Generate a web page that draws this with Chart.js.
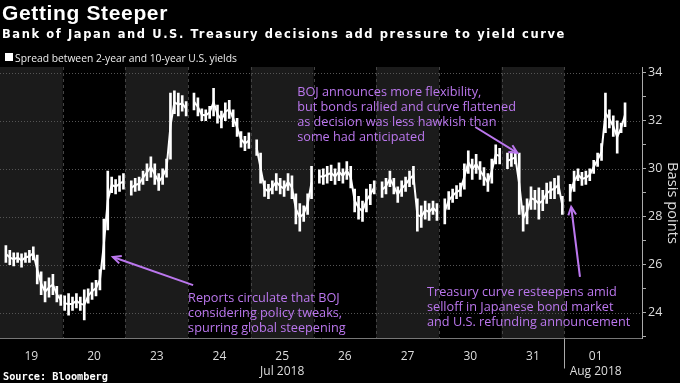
<!DOCTYPE html>
<html lang="en">
<head>
<meta charset="UTF-8">
<title>Getting Steeper</title>
<script src="https://cdn.jsdelivr.net/npm/chart.js@4.4.1/dist/chart.umd.min.js"></script>
<style>
  html, body { margin: 0; padding: 0; background: #000; }
  body { width: 680px; height: 383px; position: relative; overflow: hidden; }
  canvas { position: absolute; left: 0; top: 0; }
  .txt { position: absolute; white-space: nowrap; color: #fff; }
  #legendBox { position: absolute; left: 5px; top: 53px; width: 8px; height: 8px; background: #fff; }
</style>
</head>
<body>
<canvas id="spreadChart" width="680" height="383"></canvas>
<div class="txt" id="title">Getting Steeper</div>
<div class="txt" id="subtitle">Bank of Japan and U.S. Treasury decisions add pressure to yield curve</div>
<div id="legendBox"></div>
<div class="txt" id="legend">Spread between 2-year and 10-year U.S. yields</div>
<div class="txt" id="source">Source: Bloomberg</div>
<script>
// trading days shown on the x axis
const dayLabels = ['19', '20', '23', '24', '25', '26', '27', '30', '31', '01'];
const monthDays = ['25', '01'];
const monthNames = ['Jul 2018', 'Aug 2018'];
const yTickValues = [23, 24, 25, 26, 27, 28, 29, 30, 31, 32, 33, 34];
const slotsPerDay = 16;

// spread (bp), high / low of each intraday slot
const high19 = [null, 26.8, 26.6, 26.5, 26.5, 26.45, 26.5, 26.6, 26.75, 26.4, 25.7, 25.3, 25.45, 25.6, 25.1, 24.75];
const low19  = [null, 26.1, 26.0, 25.95, 26.1, 25.9, 26.1, 26.1, 26.2, 25.2, 24.75, 24.45, 24.65, 24.75, 24.45, 24.3];
const high20 = [24.7, 24.8, 24.65, 24.8, 24.65, 24.95, 25.0, 25.25, 25.35, 25.8, 27.9, 29.9, 29.65, 29.55, 29.7, 29.8];
const low20  = [24.1, 23.9, 24.1, 24.2, 24.1, 23.7, 24.4, 24.55, 24.7, 24.95, 25.8, 27.45, 29.0, 28.95, 29.05, 29.15];
const high23 = [null, 29.5, 29.6, 29.65, 29.9, 30.2, 30.5, 30.2, 29.8, 30.0, 30.4, 33.15, 33.25, 33.15, 33.05, 32.8];
const low23  = [null, 28.9, 29.05, 29.1, 29.35, 29.5, 29.65, 29.35, 29.1, 29.35, 29.65, 30.4, 32.3, 32.2, 32.4, 32.2];
const high24 = [null, 33.15, 32.95, 32.5, 32.45, 32.6, 33.35, 32.65, 32.4, 32.75, 32.85, 32.45, 32.1, 31.55, 31.35, 31.5];
const low24  = [null, 32.45, 32.2, 32.0, 32.0, 32.1, 32.2, 31.9, 31.7, 32.0, 32.1, 31.75, 31.35, 30.9, 30.75, 30.85];
const high25 = [null, 31.2, 30.65, 29.5, 29.35, 29.5, 29.8, 29.6, 29.5, 29.8, 29.7, 28.95, 28.55, 28.45, 28.95, 30.1];
const low25  = [null, 30.55, 29.4, 28.85, 28.75, 28.95, 29.1, 28.95, 28.85, 29.1, 28.75, 27.7, 27.4, 27.8, 28.1, 28.75];
const high26 = [null, 29.95, 30.0, 30.1, 30.15, 30.0, 30.25, 30.0, 30.3, 30.1, 29.15, 28.85, 28.65, 29.15, 29.35, 29.5];
const low26  = [null, 29.4, 29.35, 29.4, 29.5, 29.35, 29.5, 29.4, 29.55, 29.2, 28.2, 27.9, 27.8, 28.2, 28.5, 28.95];
const high27 = [null, 29.45, 29.6, 29.9, 29.6, 29.25, 29.5, 29.65, 29.9, 30.1, 28.75, 28.45, 28.65, 28.55, 28.65, 28.55];
const low27  = [null, 28.8, 28.95, 29.25, 28.95, 28.6, 28.85, 29.05, 29.25, 29.35, 27.4, 27.55, 27.9, 27.85, 28.1, 27.85];
const high30 = [null, 28.75, 29.05, 29.15, 29.3, 29.4, 30.2, 30.75, 30.4, 30.6, 30.3, 30.05, 29.8, 30.4, 31.0, 30.85];
const low30  = [null, 27.7, 28.3, 28.6, 28.75, 28.85, 29.15, 29.8, 29.55, 29.8, 29.55, 29.3, 29.05, 29.4, 30.2, 30.2];
const high31 = [null, 30.65, 30.7, 30.75, 30.65, 28.45, 28.75, 29.25, 29.1, 29.2, 29.1, 29.4, 29.45, 29.6, 29.7, 28.85];
const low31  = [null, 30.0, 30.1, 30.2, 28.1, 27.4, 27.7, 28.3, 28.3, 27.9, 28.25, 28.55, 28.75, 28.75, 28.95, 28.1];
const high01 = [null, 29.35, 29.9, 30.0, 29.85, 29.9, 30.0, 30.35, 30.65, 31.05, 33.15, 32.45, 32.2, 32.0, 31.9, 32.75];
const low01  = [null, 28.65, 29.05, 29.5, 29.3, 29.35, 29.5, 29.8, 30.1, 30.35, 31.5, 31.7, 31.35, 30.65, 31.5, 31.75];

// annotations: text lines, anchor (day, bp) and arrow (from -> to) in data units
const noteReports = ['Reports circulate that BOJ', 'considering policy tweaks,', 'spurring global steepening'];
const noteBoj = ['BOJ announces more flexibility,', 'but bonds rallied and curve flattened', 'as decision was less hawkish than', 'some had anticipated'];
const noteTreasury = ['Treasury curve resteepens amid', 'selloff in Japanese bond market', 'and U.S. refunding announcement'];

const highs = [high19, high20, high23, high24, high25, high26, high27, high30, high31, high01];
const lows = [low19, low20, low23, low24, low25, low26, low27, low30, low31, low01];

// high-low bars, plus a thin trace through each bar's middle so a session reads as one line
const bars = [];
const trace = [];
highs.forEach((hs, d) => {
  hs.forEach((h, k) => {
    if (h === null) return;
    const x = d + (k + 0.5) / slotsPerDay;
    bars.push({ x, y: [lows[d][k], h] });
    trace.push({ x, y: (lows[d][k] + h) / 2 });
  });
  trace.push({ x: d + 0.999, y: null });
});

const notes = [
  { lines: noteReports, at: [3.0, 24.61], from: [3.08, 25.15], to: [1.80, 26.32] },
  { lines: noteBoj, at: [4.74, 33.2], from: [7.58, 31.74], to: [8.25, 30.66] },
  { lines: noteTreasury, at: [6.81, 24.86], from: [9.25, 25.49], to: [9.11, 28.41] }
];

const purple = '#bb77ee';

// headline text, sized to the widths in the original
const mctx = document.createElement('canvas').getContext('2d');
function fitLine(id, family, weight, size, left, baseline, width, fitBy) {
  const el = document.getElementById(id);
  const text = el.textContent;
  mctx.font = `${weight} ${size}px ${family}`;
  let w = mctx.measureText(text).width;
  let spacing = 0;
  if (fitBy === 'size') {
    size = size * width / w;
    mctx.font = `${weight} ${size}px ${family}`;
  } else {
    spacing = (width - w) / text.length;
  }
  const m = mctx.measureText(text);
  const asc = m.fontBoundingBoxAscent, desc = m.fontBoundingBoxDescent;
  el.style.font = `${weight} ${size}px ${family}`;
  el.style.letterSpacing = spacing + 'px';
  el.style.lineHeight = (asc + desc) + 'px';
  el.style.left = left + 'px';
  el.style.top = (baseline - asc) + 'px';
}
fitLine('title', '"Liberation Sans"', 'bold', 21, 2, 20, 166, 'spacing');
fitLine('subtitle', '"DejaVu Sans"', 'bold', 11.5, 2, 37.5, 564, 'spacing');
fitLine('legend', '"Open Sans"', 'normal', 11.5, 15, 61.5, 222, 'size');
fitLine('source', '"DejaVu Sans Mono"', 'bold', 10, 3, 380, 105, 'size');
document.getElementById('legend').style.color = '#eee';

function arrow(ctx, x0, y0, x1, y1) {
  ctx.beginPath();
  ctx.moveTo(x0, y0);
  ctx.lineTo(x1, y1);
  ctx.stroke();
  const ang = Math.atan2(y1 - y0, x1 - x0), len = 9, spread = 0.45;
  ctx.beginPath();
  ctx.moveTo(x1 - len * Math.cos(ang - spread), y1 - len * Math.sin(ang - spread));
  ctx.lineTo(x1, y1);
  ctx.lineTo(x1 - len * Math.cos(ang + spread), y1 - len * Math.sin(ang + spread));
  ctx.stroke();
}

const backdrop = {
  id: 'backdrop',
  beforeDraw(chart) {
    const { ctx, chartArea: a, scales: { x, y } } = chart;
    ctx.save();
    ctx.fillStyle = '#1b1b1b';
    for (let i = 0; i < dayLabels.length; i += 2) {
      const x0 = x.getPixelForValue(i), x1 = x.getPixelForValue(i + 1);
      ctx.fillRect(x0, a.top, x1 - x0, a.bottom - a.top);
    }
    ctx.lineWidth = 1;
    ctx.strokeStyle = '#555';
    ctx.setLineDash([1, 2]);
    yTickValues.filter(v => v % 2 === 0).forEach(v => {
      const py = Math.round(y.getPixelForValue(v)) + 0.5;
      ctx.beginPath(); ctx.moveTo(a.left, py); ctx.lineTo(a.right, py); ctx.stroke();
    });
    ctx.strokeStyle = '#444';
    ctx.setLineDash([3, 3]);
    for (let i = 1; i < dayLabels.length; i++) {
      const px = Math.round(x.getPixelForValue(i)) + 0.5;
      ctx.beginPath(); ctx.moveTo(px, a.top); ctx.lineTo(px, a.bottom); ctx.stroke();
    }
    ctx.restore();
  },
  afterDraw(chart) {
    const { ctx, chartArea: a, scales: { x, y } } = chart;
    ctx.save();
    // month separator below the axis
    const px = Math.round(x.getPixelForValue(dayLabels.indexOf('01'))) + 0.5;
    ctx.strokeStyle = '#aaa';
    ctx.lineWidth = 1;
    ctx.beginPath(); ctx.moveTo(px, a.bottom); ctx.lineTo(px, a.bottom + 30); ctx.stroke();

    // axis title
    ctx.fillStyle = '#ddd';
    ctx.font = '13px "Open Sans"';
    const tw = ctx.measureText('Basis points').width;
    const fs = 13 * 82 / tw;
    ctx.font = `${fs}px "Open Sans"`;
    ctx.translate(672, 203);
    ctx.rotate(Math.PI / 2);
    ctx.textAlign = 'center';
    ctx.textBaseline = 'middle';
    ctx.fillText('Basis points', 0, 0);
    ctx.restore();

    // annotations
    ctx.save();
    ctx.font = '12px "Open Sans"';
    const nfs = 12 * 190 / ctx.measureText(noteTreasury[0]).width;
    ctx.font = `${nfs}px "Open Sans"`;
    ctx.fillStyle = purple;
    ctx.strokeStyle = purple;
    ctx.lineWidth = 2;
    ctx.textBaseline = 'middle';
    notes.forEach(n => {
      const tx = x.getPixelForValue(n.at[0]), ty = y.getPixelForValue(n.at[1]);
      n.lines.forEach((line, i) => ctx.fillText(line, tx, ty + i * 15.2));
      arrow(ctx, x.getPixelForValue(n.from[0]), y.getPixelForValue(n.from[1]),
        x.getPixelForValue(n.to[0]), y.getPixelForValue(n.to[1]));
    });
    ctx.restore();
  }
};

Chart.defaults.font.family = '"Open Sans"';

new Chart('spreadChart', {
  type: 'bar',
  data: {
    datasets: [{
      type: 'line',
      data: trace,
      borderColor: '#fff',
      borderWidth: 2,
      pointRadius: 0,
      spanGaps: false,
      tension: 0
    }, {
      data: bars,
      backgroundColor: '#fff',
      borderWidth: 0,
      barThickness: 2,
      grouped: false
    }]
  },
  options: {
    responsive: false,
    animation: false,
    devicePixelRatio: 1,
    layout: { padding: { top: 67, left: 0, right: 0, bottom: 0 } },
    plugins: { legend: { display: false }, tooltip: { enabled: false } },
    scales: {
      x: {
        type: 'linear',
        min: 0,
        max: 642 / 62.7,
        offset: false,
        afterBuildTicks: s => { s.ticks = dayLabels.map((d, i) => ({ value: i + 0.5 })); },
        afterFit: s => { s.height = 44.5; },
        grid: { display: false },
        border: { display: true, color: '#777' },
        ticks: {
          color: '#ddd',
          font: { size: 12 },
          padding: 3,
          maxRotation: 0,
          autoSkip: false,
          callback: (v, i) => {
            const d = dayLabels[i];
            const m = monthDays.indexOf(d);
            return m >= 0 ? [d, monthNames[m]] : d;
          }
        }
      },
      y: {
        position: 'right',
        min: 22.925,
        max: 34.24,
        afterBuildTicks: s => { s.ticks = yTickValues.map(v => ({ value: v })); },
        afterFit: s => { s.width = 38; },
        grid: { drawOnChartArea: false, drawTicks: true, tickLength: 4, tickColor: '#aaa' },
        border: { display: true, color: '#aaa' },
        ticks: {
          color: '#ddd',
          font: { size: 12.5 },
          padding: 2,
          autoSkip: false,
          callback: v => (v % 2 === 0 ? String(v) : '')
        }
      }
    }
  },
  plugins: [backdrop]
});
</script>
</body>
</html>
